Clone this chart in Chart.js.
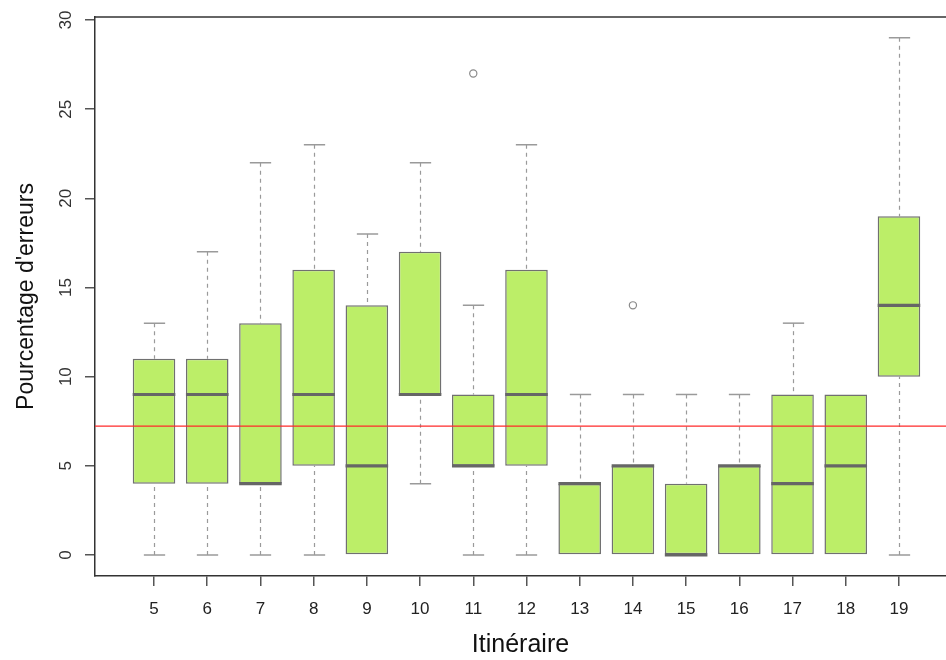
<!DOCTYPE html>
<html>
<head>
<meta charset="utf-8">
<script src="https://cdn.jsdelivr.net/npm/chart.js@4.4.1/dist/chart.umd.min.js"></script>
<style>
  html, body { margin: 0; padding: 0; background: #fff; }
</style>
</head>
<body>
<canvas id="chart" width="946" height="660"></canvas>
<script>
// ── Data ──
const itineraires = [5, 6, 7, 8, 9, 10, 11, 12, 13, 14, 15, 16, 17, 18, 19];
const whiskerLow  = [0, 0, 0, 0, 0, 4, 0, 0, 0, 0, 0, 0, 0, 0, 0];
const quart1      = [4, 4, 4, 5, 0, 9, 5, 5, 0, 0, 0, 0, 0, 0, 10];
const medians     = [9, 9, 4, 9, 5, 9, 5, 9, 4, 5, 0, 5, 4, 5, 14];
const quart3      = [11, 11, 13, 16, 14, 17, 9, 16, 4, 5, 4, 5, 9, 9, 19];
const whiskerHigh = [13, 17, 22, 23, 18, 22, 14, 23, 9, 9, 9, 9, 13, 9, 29];
const outlierX    = [11, 14];
const outlierY    = [27, 14];
const meanLevel   = 7.22;
const yTicks      = [0, 5, 10, 15, 20, 25, 30];

const X_MIN = 3.891, X_MAX = 19.884;
const Y_MIN = -1.18, Y_MAX = 30.17;

const FONT = "'Liberation Sans', Arial, sans-serif";

// ── Box plot parts drawn through the chart scales ──
const boxParts = {
  id: 'boxParts',
  beforeDatasetsDraw(chart) {
    const { ctx, scales: { x, y } } = chart;
    const capHalf = (x.getPixelForValue(1) - x.getPixelForValue(0)) * 0.2;
    ctx.save();
    itineraires.forEach((cat, i) => {
      const px = Math.round(x.getPixelForValue(cat)) + 0.5;
      const ends = [[whiskerHigh[i], quart3[i]], [whiskerLow[i], quart1[i]]]
        .filter(([w, q]) => w !== q);
      // dashed whiskers
      ctx.strokeStyle = '#9a9a9a';
      ctx.lineWidth = 1.2;
      ctx.setLineDash([4, 4]);
      ctx.beginPath();
      ends.forEach(([w, q]) => {
        ctx.moveTo(px, y.getPixelForValue(w));
        ctx.lineTo(px, y.getPixelForValue(q));
      });
      ctx.stroke();
      // caps
      ctx.setLineDash([]);
      ctx.lineWidth = 1.5;
      ctx.beginPath();
      ends.forEach(([w]) => {
        const py = y.getPixelForValue(w);
        ctx.moveTo(px - capHalf, py);
        ctx.lineTo(px + capHalf, py);
      });
      ctx.stroke();
    });
    // outliers
    ctx.strokeStyle = '#8a8a8a';
    ctx.lineWidth = 1.2;
    outlierX.forEach((cat, i) => {
      ctx.beginPath();
      ctx.arc(x.getPixelForValue(cat), y.getPixelForValue(outlierY[i]), 3.6, 0, Math.PI * 2);
      ctx.stroke();
    });
    ctx.restore();
  },
  afterDatasetDraw(chart, args) {
    if (args.meta.type !== 'bar') return;
    const { ctx, scales: { y } } = chart;
    ctx.save();
    ctx.strokeStyle = '#666666';
    ctx.lineWidth = 3.2;
    args.meta.data.forEach((bar, i) => {
      const py = y.getPixelForValue(medians[i]);
      ctx.beginPath();
      ctx.moveTo(bar.x - bar.width / 2, py);
      ctx.lineTo(bar.x + bar.width / 2, py);
      ctx.stroke();
    });
    ctx.restore();
  },
  afterDraw(chart) {
    const { ctx, chartArea, scales: { y } } = chart;
    ctx.save();
    // top frame line (right side is outside the picture)
    ctx.strokeStyle = '#333333';
    ctx.lineWidth = 1.5;
    ctx.beginPath();
    ctx.moveTo(chartArea.left, chartArea.top);
    ctx.lineTo(chartArea.right, chartArea.top);
    ctx.stroke();
    // rotated y tick labels, R style
    ctx.fillStyle = '#333333';
    ctx.font = '17px ' + FONT;
    ctx.textAlign = 'center';
    ctx.textBaseline = 'middle';
    yTicks.forEach(v => {
      ctx.save();
      ctx.translate(66, y.getPixelForValue(v));
      ctx.rotate(-Math.PI / 2);
      ctx.fillText(String(v), 0, 0);
      ctx.restore();
    });
    ctx.restore();
  },
};

new Chart(document.getElementById('chart'), {
  type: 'bar',
  data: {
    datasets: [
      {
        type: 'line',
        label: 'moyenne',
        data: [{ x: X_MIN, y: meanLevel }, { x: X_MAX, y: meanLevel }],
        borderColor: '#ff2a2a',
        borderWidth: 1.2,
        pointRadius: 0,
        order: 0,
      },
      {
        type: 'bar',
        label: 'Pourcentage',
        data: itineraires.map((c, i) => ({ x: c, y: [quart1[i], quart3[i]] })),
        backgroundColor: '#bcee68',
        borderColor: '#707070',
        borderWidth: 1.5,
        borderSkipped: false,
        barPercentage: 0.8,
        categoryPercentage: 1.0,
        order: 1,
      },
    ],
  },
  options: {
    responsive: false,
    animation: false,
    events: [],
    layout: { padding: { top: 17, right: 0, left: 0, bottom: 0 } },
    plugins: {
      legend: { display: false },
      tooltip: { enabled: false },
    },
    scales: {
      x: {
        type: 'linear',
        offset: false,
        min: X_MIN,
        max: X_MAX,
        afterBuildTicks: s => { s.ticks = s.ticks.filter(t => t.value >= 5 && t.value <= 19); },
        afterFit: s => { s.height = 84; },
        ticks: {
          stepSize: 1,
          includeBounds: false,
          color: '#222222',
          font: { family: FONT, size: 17 },
          padding: 13,
          maxRotation: 0,
          autoSkip: false,
        },
        grid: { offset: false, drawOnChartArea: false, drawTicks: true, tickLength: 10, color: '#555555', lineWidth: 1.5 },
        border: { display: true, color: '#333333', width: 1.5 },
        title: {
          display: true,
          text: 'Itinéraire',
          color: '#111111',
          font: { family: FONT, size: 25 },
          padding: { top: 0, bottom: 0 },
        },
      },
      y: {
        min: Y_MIN,
        max: Y_MAX,
        afterFit: s => { s.width = 95; },
        ticks: {
          stepSize: 5,
          includeBounds: false,
          color: 'rgba(0,0,0,0)',
          font: { family: FONT, size: 17 },
        },
        grid: { drawOnChartArea: false, drawTicks: true, tickLength: 10, color: '#555555', lineWidth: 1.5 },
        border: { display: true, color: '#333333', width: 1.5 },
        title: {
          display: true,
          text: "Pourcentage d'erreurs",
          color: '#111111',
          font: { family: FONT, size: 23 },
          padding: { top: 13, bottom: 0 },
        },
      },
    },
  },
  plugins: [boxParts],
});
</script>
</body>
</html>
